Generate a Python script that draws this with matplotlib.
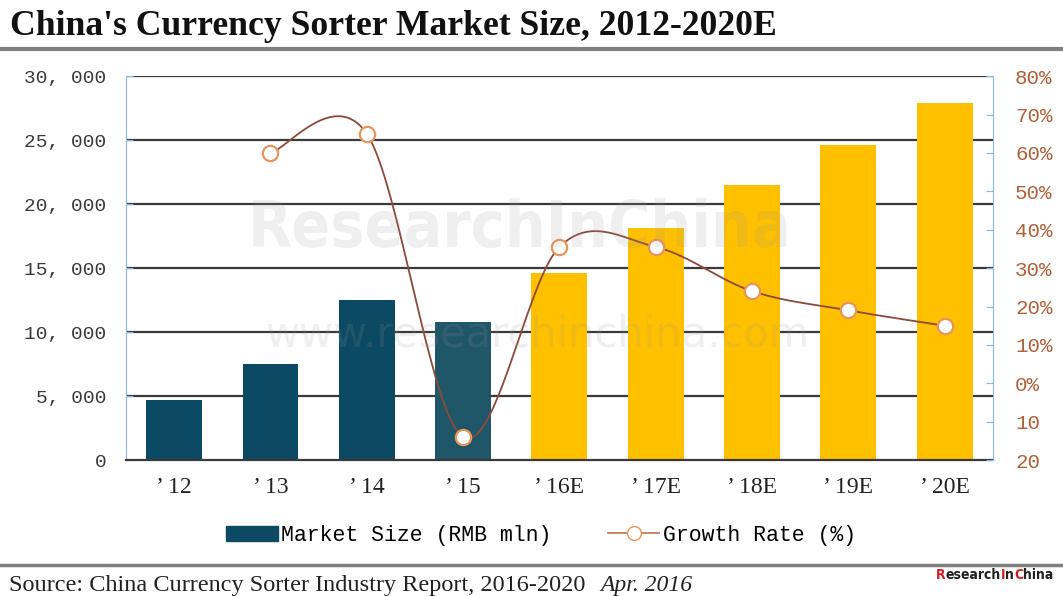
import numpy as np
import matplotlib.pyplot as plt
from matplotlib.lines import Line2D
from matplotlib.patches import Patch

years = ["’ 12", "’ 13", "’ 14", "’ 15", "’ 16E", "’ 17E", "’ 18E", "’ 19E", "’ 20E"]
market_size = [4700, 7500, 12500, 10800, 14600, 18100, 21500, 24600, 27900]
growth_years = [1, 2, 3, 4, 5, 6, 7, 8]
growth_rate = [60, 65, -14, 35.5, 35.5, 24, 19, 15]
left_ticks = [0, 5000, 10000, 15000, 20000, 25000, 30000]
left_labels = ["0", "5, 000", "10, 000", "15, 000", "20, 000", "25, 000", "30, 000"]
right_ticks = [-20, -10, 0, 10, 20, 30, 40, 50, 60, 70, 80]
right_labels = ["20", "10", "0%", "10%", "20%", "30%", "40%", "50%", "60%", "70%", "80%"]

bar_colors = ['#0B4A62'] * 3 + ['#1F5668'] + ['#FFC000'] * 5


def smooth(x, y, n=40):
    # bezier curve like excel smoothed lines
    p = np.column_stack([x, y]).astype(float)
    out = []
    for i in range(len(p) - 1):
        p0 = p[i - 1] if i > 0 else p[i]
        p1, p2 = p[i], p[i + 1]
        p3 = p[i + 2] if i + 2 < len(p) else p[i + 1]
        c1 = p1 + (p2 - p0) / 6
        c2 = p2 - (p3 - p1) / 6
        t = np.linspace(0, 1, n)[:, None]
        seg = (1 - t) ** 3 * p1 + 3 * (1 - t) ** 2 * t * c1 + 3 * (1 - t) * t ** 2 * c2 + t ** 3 * p2
        out.append(seg)
    out = np.vstack(out)
    return out[:, 0], out[:, 1]


fig = plt.figure(figsize=(10.63, 5.96), dpi=100)
ax = fig.add_axes([0.1185, 0.228, 0.8155, 0.6443])
x = np.arange(len(years))

for yv in left_ticks[1:]:
    ax.axhline(yv, color='#3a3a3a', lw=1.6, zorder=0)
ax.bar(x, market_size, width=0.58, color=bar_colors, zorder=2)
ax.set_xlim(-0.5, len(years) - 0.5)
ax.set_ylim(0, 30000)
ax.set_yticks(left_ticks)
ax.set_yticklabels(left_labels, family='Liberation Mono', fontsize=14, color='#3a3a3a')
ax.set_xticks(x)
ax.set_xticklabels(years, family='Liberation Serif', fontsize=17, color='#222222')
ax.tick_params(axis='x', length=0, pad=12)
ax.tick_params(axis='y', direction='in', length=5, color='#8DB4E2', pad=14)
ax.spines['left'].set_color('#8DB4E2')
ax.spines['bottom'].set_color('#3a3a3a')
ax.spines['bottom'].set_linewidth(1.6)
ax.spines['top'].set_visible(False)
ax.spines['right'].set_visible(False)

ax2 = ax.twinx()
ax2.set_ylim(-20, 80)
ax2.set_yticks(right_ticks)
ax2.set_yticklabels(right_labels, family='Liberation Mono', fontsize=15, color='#B0603A')
ax2.tick_params(axis='y', direction='in', length=5, color='#8DB4E2', pad=16)
for s in ['top', 'left', 'bottom']:
    ax2.spines[s].set_visible(False)
ax2.spines['right'].set_color('#8DB4E2')
sx, sy = smooth(growth_years, growth_rate)
ax2.plot(sx, sy, color='#8B4A3A', lw=1.3, zorder=3)
ax2.plot(growth_years, growth_rate, ls='none', marker='o', ms=11, mfc='white',
         mec='#E8955A', mew=1.6, zorder=4)

# watermark
fig.text(0.489, 0.615, "ResearchInChina", fontsize=46, fontweight='bold', family='DejaVu Sans',
         stretch='condensed', color='#999999', alpha=0.15, ha='center', va='center', zorder=10)
fig.text(0.505, 0.438, "www.researchinchina.com", fontsize=30, family='DejaVu Sans',
         color='#999999', alpha=0.15, ha='center', va='center', zorder=10)

# legend
handles = [Patch(color='#0B4A62'),
           Line2D([0], [0], color='#C87A5A', lw=1.3, marker='o', ms=10, mfc='white', mec='#E8955A')]
fig.legend(handles, ['Market Size (RMB mln)', 'Growth Rate (%)'], loc='center', ncol=2,
           bbox_to_anchor=(0.509, 0.102), frameon=False, prop={'family': 'Liberation Mono', 'size': 15.5},
           handlelength=2.4, handletextpad=0.15, columnspacing=2.6)

# title, rules and source
fig.text(0.009, 0.955, "China's Currency Sorter Market Size, 2012-2020E", family='Liberation Serif',
         fontweight='bold', fontsize=25.7, va='center', color='#111111')
fig.add_artist(Line2D([0, 1], [0.918, 0.918], color='#808080', lw=3))
fig.add_artist(Line2D([0, 1], [0.052, 0.052], color='#808080', lw=2.5))
fig.text(0.008, 0.018, "Source: China Currency Sorter Industry Report, 2016-2020", family='Liberation Serif',
         fontsize=17.5, va='center', color='#222222')
fig.text(0.565, 0.018, "Apr. 2016", family='Liberation Serif', style='italic',
         fontsize=17, va='center', color='#222222')

# logo, pieces placed one after another
renderer = fig.canvas.get_renderer()
lx = 936
for part, col in [("R", '#CC2020'), ("esearch", '#222222'), ("I", '#CC2020'), ("n", '#222222'),
                  ("C", '#CC2020'), ("hina", '#222222')]:
    t = fig.text(lx / 1063, 0.035, part, family='DejaVu Sans', stretch='condensed', fontweight='bold',
                 fontsize=10, color=col, va='center')
    lx = t.get_window_extent(renderer).x1

fig.savefig('out.png', dpi=100)
